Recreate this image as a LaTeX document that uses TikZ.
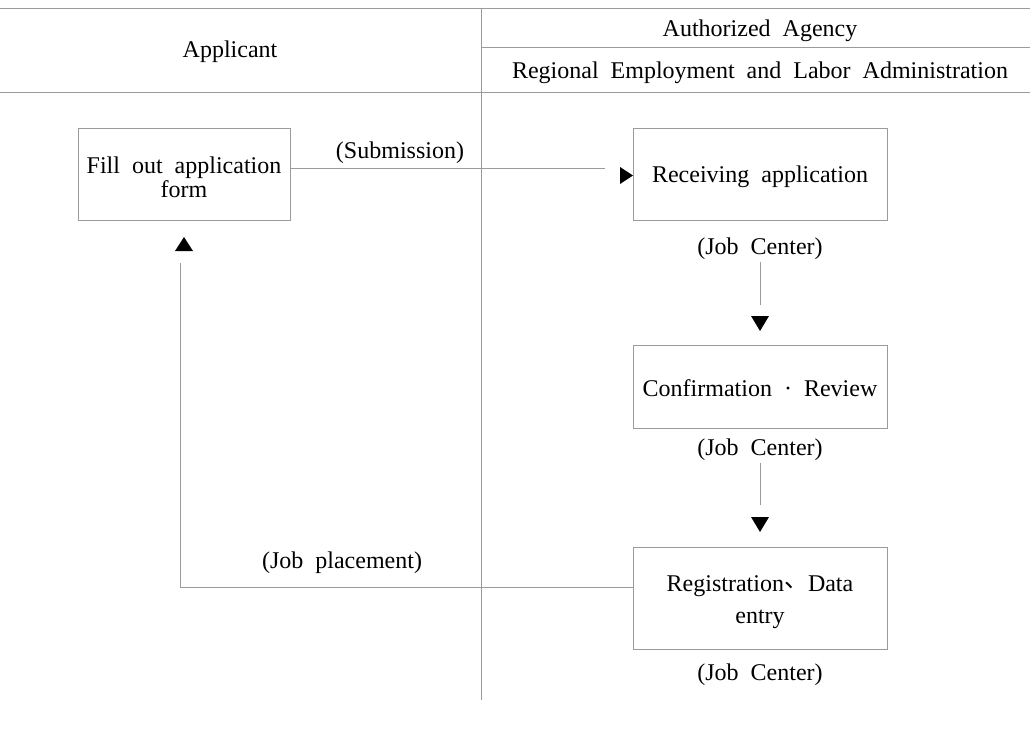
\documentclass[tikz,border=0pt]{standalone}
\usepackage{fontspec}
\setmainfont{Liberation Serif}[WordSpace=2]
\newfontfamily\cjk{Noto Sans CJK KR}
\definecolor{linegray}{RGB}{155,155,155}
\begin{document}
\begin{tikzpicture}[x=1pt,y=-1pt,
  rule/.style={draw=linegray,line width=1pt},
  conn/.style={draw=linegray,line width=1pt},
  box/.style={draw=linegray,line width=1pt,minimum width=254pt,align=center,inner sep=0pt,font=\fontsize{24}{26}\selectfont},
  lbl/.style={font=\fontsize{24}{26}\selectfont,inner sep=0pt,align=center},
  tip/.style={fill=black,draw=none}]
\useasboundingbox (0,0) rectangle (1030,729);
% table rules
\draw[rule] (0,8) -- (1030,8);
\draw[rule] (0,92) -- (1030,92);
\draw[rule] (481,47) -- (1030,47);
\draw[rule] (481,8) -- (481,700);
\node[lbl] (hApp) at (230,52) {Applicant};
\node[lbl] (hAuth) at (760,31) {Authorized Agency};
\node[lbl] (hReg) at (760,73) {Regional Employment and Labor Administration};
% boxes
\node[box,minimum width=212pt,minimum height=92pt] (fill) at (184,174) {};
\node[lbl] (fillt) at (184,177) {Fill out application\\[-2pt]form};
\node[box,minimum height=92pt] (recv) at (760,174) {};
\node[lbl] (recvt) at (760,177) {Receiving application};
\node[lbl] (jc1) at (760,249) {(Job Center)};
\node[box,minimum height=83pt] (conf) at (760,386.5) {};
\node[lbl] (conft) at (760,388) {Confirmation · Review};
\node[lbl] (jc2) at (760,450) {(Job Center)};
\node[box,minimum height=102pt] (reg) at (760,598) {};
\node[lbl] (regt) at (760,602) {Registration{\cjk\raisebox{4pt}{、}}Data\\[6pt]entry};
\node[lbl] (jc3) at (760,675) {(Job Center)};
\node[lbl] (sub) at (400,153) {(Submission)};
\node[lbl] (place) at (342,563) {(Job placement)};
% connectors
\coordinate (e1) at (605,168);
\draw[conn] (fill.east |- e1) -- (e1);
\fill[tip] (620,167) -- (633,175.5) -- (620,184) -- cycle;
\coordinate (v1a) at (760,262);
\coordinate (v1b) at (760,305);
\draw[conn] (v1a) -- (v1b);
\fill[tip] (751,316) -- (769,316) -- (760,331) -- cycle;
\coordinate (v2a) at (760,463);
\coordinate (v2b) at (760,505);
\draw[conn] (v2a) -- (v2b);
\fill[tip] (751,517) -- (769,517) -- (760,532) -- cycle;
\coordinate (up) at (180,263);
\draw[conn] (reg.west |- 0,587) -- (180,587) -- (up);
\fill[tip] (175,251) -- (193,251) -- (184,237) -- cycle;
\end{tikzpicture}
\end{document}
